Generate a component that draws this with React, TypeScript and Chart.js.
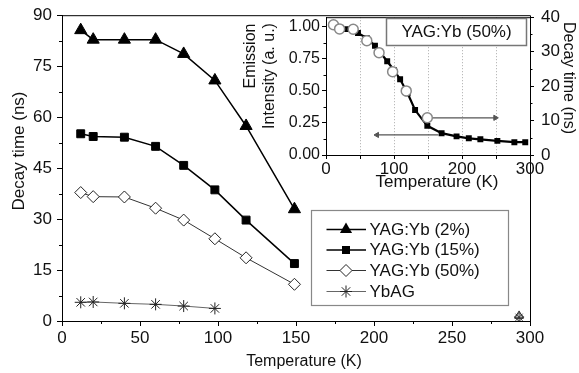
import React, { useEffect, useRef } from 'react';
import { Chart, registerables } from 'chart.js';
Chart.register(...registerables);

const FONT = '"Liberation Sans", Arial, Helvetica, sans-serif';

// ---- main chart data ----
const temps = [12, 20, 40, 60, 78, 98, 118, 149];
const yag2 = [85.6, 82.8, 82.8, 82.8, 78.6, 70.8, 57.4, 32.9];
const yag15 = [55.1, 54.3, 54.1, 51.4, 45.8, 38.6, 29.7, 16.9];
const yag50 = [37.8, 36.6, 36.5, 33.2, 29.7, 24.2, 18.6, 10.8];
const ybagTemps = [12, 20, 40, 60, 78, 98];
const ybag = [5.5, 5.6, 5.2, 4.9, 4.4, 3.7];
const roomTemp = [293];
const roomYag2 = [1.5];
const roomYag50 = [1.2];
const roomYbag = [1.1];

const mainXTicks = [0, 50, 100, 150, 200, 250, 300];
const mainXMinor = [25, 75, 125, 175, 225, 275];
const mainYTicks = [0, 15, 30, 45, 60, 75, 90];
const mainYMinor = [7.5, 22.5, 37.5, 52.5, 67.5, 82.5];

const legendLabels = ['YAG:Yb (2%)', 'YAG:Yb (15%)', 'YAG:Yb (50%)', 'YbAG'];

// ---- inset data ----
const insetIntTemps = [30, 47, 60, 72, 90, 100, 109, 120, 131, 149, 170, 192, 210, 227, 252, 277, 293];
const insetInt = [0.98, 0.95, 0.91, 0.85, 0.73, 0.66, 0.59, 0.48, 0.35, 0.227, 0.17, 0.145, 0.13, 0.122, 0.11, 0.1, 0.1];
const insetDecayTemps = [11, 20, 40, 60, 78, 98, 118, 149];
const insetDecay = [37.8, 36.6, 36.5, 33.2, 29.7, 24.2, 18.6, 10.8];
const arrowDecayX = [150, 249];
const arrowDecayY = [10.8, 10.8];
const arrowIntX = [165, 75];
const arrowIntY = [0.156, 0.156];

const insetXTicks = [0, 50, 100, 150, 200, 250, 300];
const insetGrid = [50, 100, 150, 200, 250];
const insetLeftTicks = [0, 0.25, 0.5, 0.75, 1.0];
const insetLeftMinor = [0.125, 0.375, 0.625, 0.875];
const insetRightTicks = [0, 10, 20, 30, 40];
const insetRightMinor = [5, 15, 25, 35];

const pts = (xs: number[], ys: number[]) => xs.map((x, i) => ({ x, y: ys[i] }));

function drawText(ctx: CanvasRenderingContext2D, s: string, x: number, y: number, size = 16, rot = 0, align: CanvasTextAlign = 'center', color = '#111') {
  ctx.save();
  ctx.translate(x, y);
  ctx.rotate(rot);
  ctx.font = `${size}px ${FONT}`;
  ctx.fillStyle = color;
  ctx.textAlign = align;
  ctx.textBaseline = 'middle';
  ctx.fillText(s, 0, 0);
  ctx.restore();
}

function marker(ctx: CanvasRenderingContext2D, style: string, x: number, y: number) {
  ctx.save();
  ctx.beginPath();
  if (style === 'triangle') {
    const r = 7;
    ctx.moveTo(x, y - r);
    ctx.lineTo(x + r * Math.sin(2 * Math.PI / 3), y + r / 2);
    ctx.lineTo(x - r * Math.sin(2 * Math.PI / 3), y + r / 2);
    ctx.closePath();
    ctx.fillStyle = '#000';
    ctx.fill();
  } else if (style === 'rect') {
    ctx.rect(x - 4, y - 4, 8, 8);
    ctx.fillStyle = '#000';
    ctx.fill();
  } else if (style === 'rectRot') {
    const r = 6;
    ctx.moveTo(x, y - r); ctx.lineTo(x + r, y); ctx.lineTo(x, y + r); ctx.lineTo(x - r, y); ctx.closePath();
    ctx.fillStyle = '#fff';
    ctx.fill();
    ctx.strokeStyle = '#222';
    ctx.lineWidth = 1;
    ctx.stroke();
  } else {
    const r = 6;
    for (let k = 0; k < 4; k++) {
      const a = k * Math.PI / 4;
      ctx.moveTo(x + r * Math.cos(a), y + r * Math.sin(a));
      ctx.lineTo(x - r * Math.cos(a), y - r * Math.sin(a));
    }
    ctx.strokeStyle = '#222';
    ctx.lineWidth = 1;
    ctx.stroke();
  }
  ctx.restore();
}

const mainDecor = {
  id: 'mainDecor',
  afterDatasetsDraw(chart: any) {
    const ctx: CanvasRenderingContext2D = chart.ctx;
    const { left, right, top, bottom } = chart.chartArea;
    const xs = chart.scales.x;
    const ys = chart.scales.y;
    ctx.save();
    ctx.strokeStyle = '#000';
    ctx.lineWidth = 1;
    ctx.beginPath();
    ctx.moveTo(left, top + 0.5);
    ctx.lineTo(right + 0.5, top + 0.5);
    ctx.lineTo(right + 0.5, bottom);
    ctx.stroke();
    ctx.beginPath();
    mainXMinor.forEach(v => {
      const p = Math.round(xs.getPixelForValue(v)) + 0.5;
      ctx.moveTo(p, bottom); ctx.lineTo(p, bottom + 3);
    });
    mainYMinor.forEach(v => {
      const p = Math.round(ys.getPixelForValue(v)) + 0.5;
      ctx.moveTo(left, p); ctx.lineTo(left - 3, p);
    });
    ctx.stroke();

    // legend
    const bx = 311.5, by = 210.5, bw = 197, bh = 95;
    ctx.fillStyle = '#fff';
    ctx.fillRect(bx, by, bw, bh);
    ctx.strokeStyle = '#888';
    ctx.lineWidth = 1.2;
    ctx.strokeRect(bx, by, bw, bh);
    const rows = [229.5, 250, 270.5, 291.5];
    const styles = ['triangle', 'rect', 'rectRot', 'star'];
    const lineCols = ['#000', '#000', '#333', '#666'];
    const lineW = [1.5, 1.5, 1, 1];
    rows.forEach((ry, i) => {
      ctx.beginPath();
      ctx.strokeStyle = lineCols[i];
      ctx.lineWidth = lineW[i];
      ctx.moveTo(326.5, ry); ctx.lineTo(366, ry);
      ctx.stroke();
      marker(ctx, styles[i], 346, ry);
      drawText(ctx, legendLabels[i], 369.5, ry + 0.5, 17, 0, 'left');
    });
    ctx.restore();

    drawText(ctx, 'Decay time (ns)', 19, 151, 17, -Math.PI / 2);
    drawText(ctx, 'Temperature (K)', 304, 362, 16);
  },
};

const insetDecor = {
  id: 'insetDecor',
  beforeDatasetsDraw(chart: any) {
    const ctx: CanvasRenderingContext2D = chart.ctx;
    const { top, bottom } = chart.chartArea;
    const xs = chart.scales.x;
    ctx.save();
    ctx.strokeStyle = '#aaa';
    ctx.lineWidth = 1;
    ctx.setLineDash([1, 2]);
    ctx.beginPath();
    insetGrid.forEach(v => {
      const p = Math.round(xs.getPixelForValue(v)) + 0.5;
      ctx.moveTo(p, top); ctx.lineTo(p, bottom);
    });
    ctx.stroke();
    ctx.restore();
  },
  afterDatasetsDraw(chart: any) {
    const ctx: CanvasRenderingContext2D = chart.ctx;
    const { left, right, top, bottom } = chart.chartArea;
    const yl = chart.scales.yL;
    const yr = chart.scales.yR;
    ctx.save();
    ctx.strokeStyle = '#000';
    ctx.lineWidth = 1;
    ctx.beginPath();
    ctx.moveTo(left, top + 0.5);
    ctx.lineTo(right + 0.5, top + 0.5);
    ctx.stroke();
    ctx.beginPath();
    insetLeftMinor.forEach(v => {
      const p = Math.round(yl.getPixelForValue(v)) + 0.5;
      ctx.moveTo(left, p); ctx.lineTo(left - 2.5, p);
    });
    insetRightMinor.forEach(v => {
      const p = Math.round(yr.getPixelForValue(v)) + 0.5;
      ctx.moveTo(right, p); ctx.lineTo(right + 2.5, p);
    });
    ctx.stroke();
    // label box
    ctx.fillStyle = '#fff';
    ctx.fillRect(386.5, 18.5, 140, 27);
    ctx.strokeStyle = '#777';
    ctx.lineWidth = 1.5;
    ctx.strokeRect(386.5, 18.5, 140, 27);
    ctx.restore();
    drawText(ctx, 'YAG:Yb (50%)', 456.5, 32.5, 17);
    drawText(ctx, 'Temperature (K)', 437, 182, 17);
    drawText(ctx, 'Emission', 251, 56, 16, -Math.PI / 2);
    drawText(ctx, 'Intensity (a. u.)', 270, 76, 16, -Math.PI / 2);
    drawText(ctx, 'Decay time (ns)', 568, 78, 16, Math.PI / 2);
  },
};

const tickFont = { family: FONT, size: 17 };

export default function App() {
  const mainRef = useRef<HTMLCanvasElement>(null);
  const insetRef = useRef<HTMLCanvasElement>(null);

  useEffect(() => {
    const main = new Chart(mainRef.current as HTMLCanvasElement, {
      type: 'scatter',
      data: {
        datasets: [
          { data: pts(temps, yag2), showLine: true, borderColor: '#000', borderWidth: 1.5, pointStyle: 'triangle', pointRadius: 7, pointBackgroundColor: '#000', pointBorderColor: '#000', pointBorderWidth: 1 },
          { data: pts(temps, yag15), showLine: true, borderColor: '#000', borderWidth: 1.5, pointStyle: 'rect', pointRadius: 5.6, pointBackgroundColor: '#000', pointBorderColor: '#000', pointBorderWidth: 1 },
          { data: pts(temps, yag50), showLine: true, borderColor: '#333', borderWidth: 1, pointStyle: 'rectRot', pointRadius: 6, pointBackgroundColor: '#fff', pointBorderColor: '#222', pointBorderWidth: 1 },
          { data: pts(ybagTemps, ybag), showLine: true, borderColor: '#666', borderWidth: 1, pointStyle: 'star', pointRadius: 6, pointBackgroundColor: '#222', pointBorderColor: '#222', pointBorderWidth: 1 },
          { data: pts(roomTemp, roomYag2), showLine: false, pointStyle: 'triangle', pointRadius: 5, pointBackgroundColor: 'rgba(0,0,0,0)', pointBorderColor: '#333', pointBorderWidth: 1 },
          { data: pts(roomTemp, roomYag50), showLine: false, pointStyle: 'rectRot', pointRadius: 4.5, pointBackgroundColor: 'rgba(0,0,0,0)', pointBorderColor: '#333', pointBorderWidth: 1 },
          { data: pts(roomTemp, roomYbag), showLine: false, pointStyle: 'star', pointRadius: 5, pointBorderColor: '#333', pointBorderWidth: 1 },
        ],
      },
      options: {
        animation: false,
        responsive: false,
        layout: { padding: { left: 12, top: 13, right: 49, bottom: 12 } },
        plugins: { legend: { display: false }, tooltip: { enabled: false } },
        scales: {
          x: {
            type: 'linear', min: 0, max: 300,
            afterBuildTicks: (s: any) => { s.ticks = mainXTicks.map(v => ({ value: v })); },
            afterFit: (s: any) => { s.height = 40; },
            grid: { drawOnChartArea: false, drawTicks: true, tickLength: 5, tickColor: '#000', tickWidth: 1 },
            border: { color: '#000', width: 1 },
            ticks: { font: tickFont, color: '#111', padding: 2, maxRotation: 0, autoSkip: false },
          },
          y: {
            type: 'linear', min: 0, max: 90,
            afterBuildTicks: (s: any) => { s.ticks = mainYTicks.map(v => ({ value: v })); },
            afterFit: (s: any) => { s.width = 50; },
            grid: { drawOnChartArea: false, drawTicks: true, tickLength: 5, tickColor: '#000', tickWidth: 1 },
            border: { color: '#000', width: 1 },
            ticks: { font: tickFont, color: '#111', padding: 5, autoSkip: false },
          },
        },
      },
      plugins: [mainDecor],
    } as any);

    const inset = new Chart(insetRef.current as HTMLCanvasElement, {
      type: 'scatter',
      data: {
        datasets: [
          { data: pts(insetDecayTemps, insetDecay), yAxisID: 'yR', showLine: false, pointStyle: 'circle', pointRadius: 5, pointBackgroundColor: '#fff', pointBorderColor: '#888', pointBorderWidth: 1.5 },
          { data: pts(insetIntTemps, insetInt), yAxisID: 'yL', showLine: true, borderColor: '#000', borderWidth: 2.2, pointStyle: 'rect', pointRadius: 4.2, pointBackgroundColor: '#000', pointBorderColor: '#000', pointBorderWidth: 0 },
          { data: pts(arrowDecayX, arrowDecayY), yAxisID: 'yR', showLine: true, borderColor: '#555', borderWidth: 1.2, pointStyle: 'triangle', pointRadius: [0, 3], pointRotation: [0, 90], pointBackgroundColor: '#555', pointBorderColor: '#555', pointBorderWidth: 1 },
          { data: pts(arrowIntX, arrowIntY), yAxisID: 'yL', showLine: true, borderColor: '#555', borderWidth: 1.2, pointStyle: 'triangle', pointRadius: [0, 3], pointRotation: [0, 270], pointBackgroundColor: '#555', pointBorderColor: '#555', pointBorderWidth: 1 },
        ],
      },
      options: {
        animation: false,
        responsive: false,
        layout: { padding: { left: 286, top: 13, right: 9, bottom: 178 } },
        plugins: { legend: { display: false }, tooltip: { enabled: false } },
        scales: {
          x: {
            type: 'linear', min: 0, max: 300,
            afterBuildTicks: (s: any) => { s.ticks = insetXTicks.map(v => ({ value: v })); },
            afterFit: (s: any) => { s.height = 40; },
            grid: { drawOnChartArea: false, drawTicks: true, tickLength: 4, tickColor: '#000', tickWidth: 1 },
            border: { color: '#000', width: 1 },
            ticks: { font: tickFont, color: '#111', padding: 0, maxRotation: 0, autoSkip: false, callback: (v: any) => (Number(v) % 100 === 0 ? String(v) : '') },
          },
          yL: {
            type: 'linear', position: 'left', min: 0, max: 1.073,
            afterBuildTicks: (s: any) => { s.ticks = insetLeftTicks.map(v => ({ value: v })); },
            afterFit: (s: any) => { s.width = 40; },
            grid: { drawOnChartArea: false, drawTicks: true, tickLength: 4, tickColor: '#000', tickWidth: 1 },
            border: { color: '#000', width: 1 },
            ticks: { font: { family: FONT, size: 16 }, color: '#111', padding: 2, autoSkip: false, callback: (v: any) => Number(v).toFixed(2) },
          },
          yR: {
            type: 'linear', position: 'right', min: 0, max: 40,
            afterBuildTicks: (s: any) => { s.ticks = insetRightTicks.map(v => ({ value: v })); },
            afterFit: (s: any) => { s.width = 40; },
            grid: { drawOnChartArea: false, drawTicks: true, tickLength: 4, tickColor: '#000', tickWidth: 1 },
            border: { color: '#000', width: 1 },
            ticks: { font: tickFont, color: '#111', padding: 7, autoSkip: false },
          },
        },
      },
      plugins: [insetDecor],
    } as any);

    return () => {
      main.destroy();
      inset.destroy();
    };
  }, []);

  return (
    <div style={{ position: 'fixed', left: 0, top: 0, width: 579, height: 373, background: '#fff' }}>
      <canvas ref={mainRef} width={579} height={373} style={{ position: 'absolute', left: 0, top: 0 }} />
      <canvas ref={insetRef} width={579} height={373} style={{ position: 'absolute', left: 0, top: 0 }} />
    </div>
  );
}
